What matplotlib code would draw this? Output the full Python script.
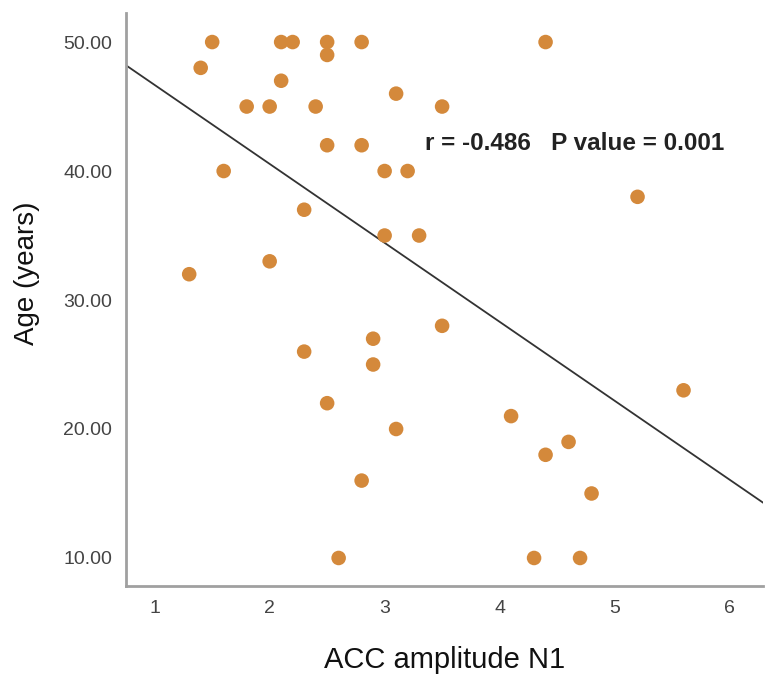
import matplotlib
matplotlib.use("Agg")
import matplotlib.pyplot as plt
import numpy as np

plt.rcParams['font.family'] = ['Liberation Sans', 'DejaVu Sans']

acc_n1 = [1.5, 1.4, 2.1, 2.2, 2.5, 2.8, 4.4, 2.5, 2.1, 3.1, 1.8, 2.0, 2.4, 3.5,
          2.5, 2.8, 1.6, 3.0, 3.2, 2.3, 5.2, 3.0, 3.3, 1.3, 2.0,
          2.3, 2.9, 2.9, 3.5, 2.5, 3.1, 2.8, 2.6,
          4.1, 5.6, 4.6, 4.4, 4.8, 4.3, 4.7]
age = [50, 48, 50, 50, 50, 50, 50, 49, 47, 46, 45, 45, 45, 45,
       42, 42, 40, 40, 40, 37, 38, 35, 35, 32, 33,
       26, 27, 25, 28, 22, 20, 16, 10,
       21, 23, 19, 18, 15, 10, 10]

fit_x = [0.75, 6.29]
fit_y = [48.2, 14.3]

x_ticks = [1, 2, 3, 4, 5, 6]
y_ticks = [10, 20, 30, 40, 50]
annotation = "r = -0.486   P value = 0.001"

fig = plt.figure(figsize=(7.69, 6.75), dpi=100)
ax = fig.add_axes([0.1638, 0.1319, 0.8282, 0.8488])

ax.scatter(acc_n1, age, s=110, color='#D4893B', edgecolors='none', zorder=3)
ax.plot(fit_x, fit_y, color='#333333', lw=1.3, zorder=2)

ax.set_xlim(0.75, 6.29)
ax.set_ylim(7.83, 52.25)
ax.set_xticks(x_ticks)
ax.set_xticklabels([str(t) for t in x_ticks])
ax.set_yticks(y_ticks)
ax.set_yticklabels([f"{t:.2f}" for t in y_ticks])

for s in ['top', 'right']:
    ax.spines[s].set_visible(False)
for s in ['left', 'bottom']:
    ax.spines[s].set_color('#A0A0A0')
    ax.spines[s].set_linewidth(2)

ax.tick_params(axis='both', length=0, labelsize=14, colors='#444444')
ax.tick_params(axis='x', pad=10)
ax.tick_params(axis='y', pad=10)

ax.set_xlabel("ACC amplitude N1", fontsize=21, color='#111111')
ax.xaxis.set_label_coords(0.5, -0.129)
ax.xaxis.label.set_va('center')
ax.set_ylabel("Age (years)", fontsize=20, color='#111111')
ax.yaxis.set_label_coords(-0.155, 0.546)
ax.yaxis.label.set_va('center')

ax.text(3.35, 42.1, annotation, fontsize=17.5, fontweight='bold',
        color='#222222', va='center', ha='left')

fig.savefig("out.png", dpi=100, facecolor='white')
